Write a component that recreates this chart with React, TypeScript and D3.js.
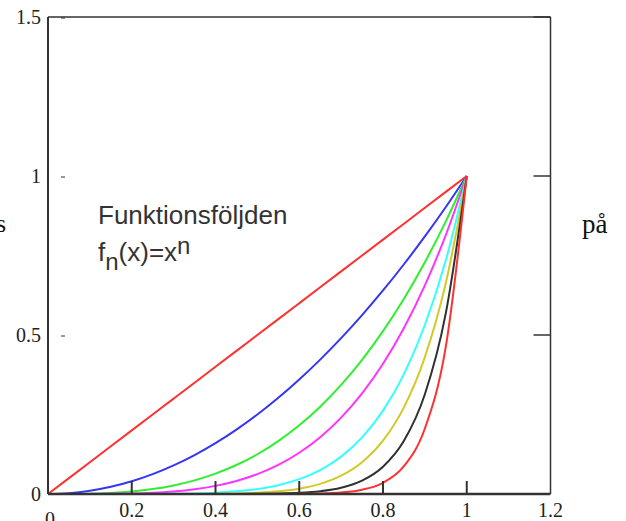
import React from 'react';
import * as d3 from 'd3';

// x sample positions
const xs = [0, 0.05, 0.1, 0.15, 0.2, 0.25, 0.3, 0.35, 0.4, 0.45, 0.5, 0.55, 0.6, 0.65, 0.7, 0.75, 0.8, 0.85, 0.9, 0.95, 1];

const curveRed1 = [0, 0.05, 0.1, 0.15, 0.2, 0.25, 0.3, 0.35, 0.4, 0.45, 0.5, 0.55, 0.6, 0.65, 0.7, 0.75, 0.8, 0.85, 0.9, 0.95, 1];
const curveBlue = [0, 0.0025, 0.01, 0.0225, 0.04, 0.0625, 0.09, 0.1225, 0.16, 0.2025, 0.25, 0.3025, 0.36, 0.4225, 0.49, 0.5625, 0.64, 0.7225, 0.81, 0.9025, 1];
const curveGreen = [0, 0.0001, 0.001, 0.0034, 0.008, 0.0156, 0.027, 0.0429, 0.064, 0.0911, 0.125, 0.1664, 0.216, 0.2746, 0.343, 0.4219, 0.512, 0.6141, 0.729, 0.8574, 1];
const curveMagenta = [0, 0, 0.0001, 0.0005, 0.0016, 0.0039, 0.0081, 0.015, 0.0256, 0.041, 0.0625, 0.0915, 0.1296, 0.1785, 0.2401, 0.3164, 0.4096, 0.522, 0.6561, 0.8145, 1];
const curveCyan = [0, 0, 0, 0, 0.0001, 0.0002, 0.0007, 0.0018, 0.0041, 0.0083, 0.0156, 0.0277, 0.0467, 0.0754, 0.1176, 0.178, 0.2621, 0.3771, 0.5314, 0.7351, 1];
const curveYellow = [0, 0, 0, 0, 0, 0, 0.0001, 0.0002, 0.0007, 0.0017, 0.0039, 0.0084, 0.0168, 0.0319, 0.0576, 0.1001, 0.1678, 0.2725, 0.4305, 0.6634, 1];
const curveBlack = [0, 0, 0, 0, 0, 0, 0, 0, 0, 0.0002, 0.0005, 0.0014, 0.0036, 0.0088, 0.0198, 0.0422, 0.0859, 0.1673, 0.3138, 0.5688, 1];
const curveRed2 = [0, 0, 0, 0, 0, 0, 0, 0, 0, 0, 0, 0.0001, 0.0005, 0.0016, 0.0047, 0.0134, 0.0352, 0.0874, 0.2059, 0.4633, 1];

const series = [curveRed1, curveBlue, curveGreen, curveMagenta, curveCyan, curveYellow, curveBlack, curveRed2];
const colors = ['#ff3030', '#3535f5', '#30ee30', '#ff33ff', '#33ffff', '#d4c828', '#303030', '#ff3030'];

const xTicks = [0.2, 0.4, 0.6, 0.8, 1, 1.2];
const xTickLabels = ['0.2', '0.4', '0.6', '0.8', '1', '1.2'];
const yTicks = [0, 0.5, 1, 1.5];
const yTickLabels = ['0', '0.5', '1', '1.5'];

const W = 626;
const H = 521;

export default function App() {
  const x = d3.scaleLinear().domain([0, 1.2]).range([48, 550.5]);
  const y = d3.scaleLinear().domain([0, 1.5]).range([494, 17]);

  const line = d3.line<number>()
    .x((d, i) => x(xs[i]))
    .y(d => y(d))
    .curve(d3.curveMonotoneX);

  const axisColor = '#333';
  const serif = '"Liberation Serif", "Times New Roman", serif';
  const sans = '"Liberation Sans", Arial, sans-serif';

  return (
    <svg width={W} height={H} style={{ position: 'absolute', left: 0, top: 0, background: '#fff' }}>
      {/* curves */}
      {series.map((s, k) => (
        <path key={k} d={line(s) || ''} fill="none" stroke={colors[k]} strokeWidth={2} />
      ))}

      {/* frame */}
      <line x1={x(0)} x2={x(1.2)} y1={y(0)} y2={y(0)} stroke={axisColor} strokeWidth={2.5} />
      <line x1={x(0)} x2={x(0)} y1={y(0)} y2={y(1.5)} stroke={axisColor} strokeWidth={2} />
      <line x1={x(0)} x2={x(1.2)} y1={y(1.5)} y2={y(1.5)} stroke={axisColor} strokeWidth={1.5} />
      <line x1={x(1.2)} x2={x(1.2)} y1={y(0)} y2={y(1.5)} stroke={axisColor} strokeWidth={1.5} />

      {/* bottom ticks */}
      {xTicks.slice(0, 5).map((t, i) => (
        <line key={i} x1={x(t)} x2={x(t)} y1={y(0)} y2={y(0) - 13} stroke={axisColor} strokeWidth={2} />
      ))}
      {/* right ticks */}
      {yTicks.slice(1).map((t, i) => (
        <line key={i} x1={x(1.2) - 17} x2={x(1.2)} y1={y(t)} y2={y(t)} stroke={axisColor} strokeWidth={1.5} />
      ))}
      {/* small left marks */}
      {yTicks.slice(1).map((t, i) => (
        <line key={i} x1={x(0) + 13} x2={x(0) + 17} y1={y(t) + 1} y2={y(t) + 1} stroke={axisColor} strokeWidth={1} />
      ))}

      {/* y tick labels */}
      {yTicks.map((t, i) => (
        <text key={i} x={41} y={y(t) + 7} textAnchor="end" fontFamily={serif} fontSize={20} fill="#222">
          {yTickLabels[i]}
        </text>
      ))}
      {/* x tick labels */}
      {xTicks.map((t, i) => (
        <text key={i} x={x(t)} y={517} textAnchor="middle" fontFamily={serif} fontSize={20} fill="#222">
          {xTickLabels[i]}
        </text>
      ))}
      <text x={x(0) + 2} y={526} textAnchor="middle" fontFamily={serif} fontSize={20} fill="#222">0</text>

      {/* annotation */}
      <text x={98} y={224} fontFamily={sans} fontSize={26} fill="#333">Funktionsföljden</text>
      <text x={98} y={261} fontFamily={sans} fontSize={26} fill="#333">
        f<tspan dy={9} fontSize={24}>n</tspan>
        <tspan dy={-9}>(x)=x</tspan>
        <tspan dy={-7} fontSize={24}>n</tspan>
      </text>

      {/* clipped surrounding text */}
      <text x={6} y={232} textAnchor="end" fontFamily={serif} fontSize={26} fill="#111">s</text>
      <text x={582} y={233} fontFamily={serif} fontSize={27} fill="#111">på</text>
    </svg>
  );
}
